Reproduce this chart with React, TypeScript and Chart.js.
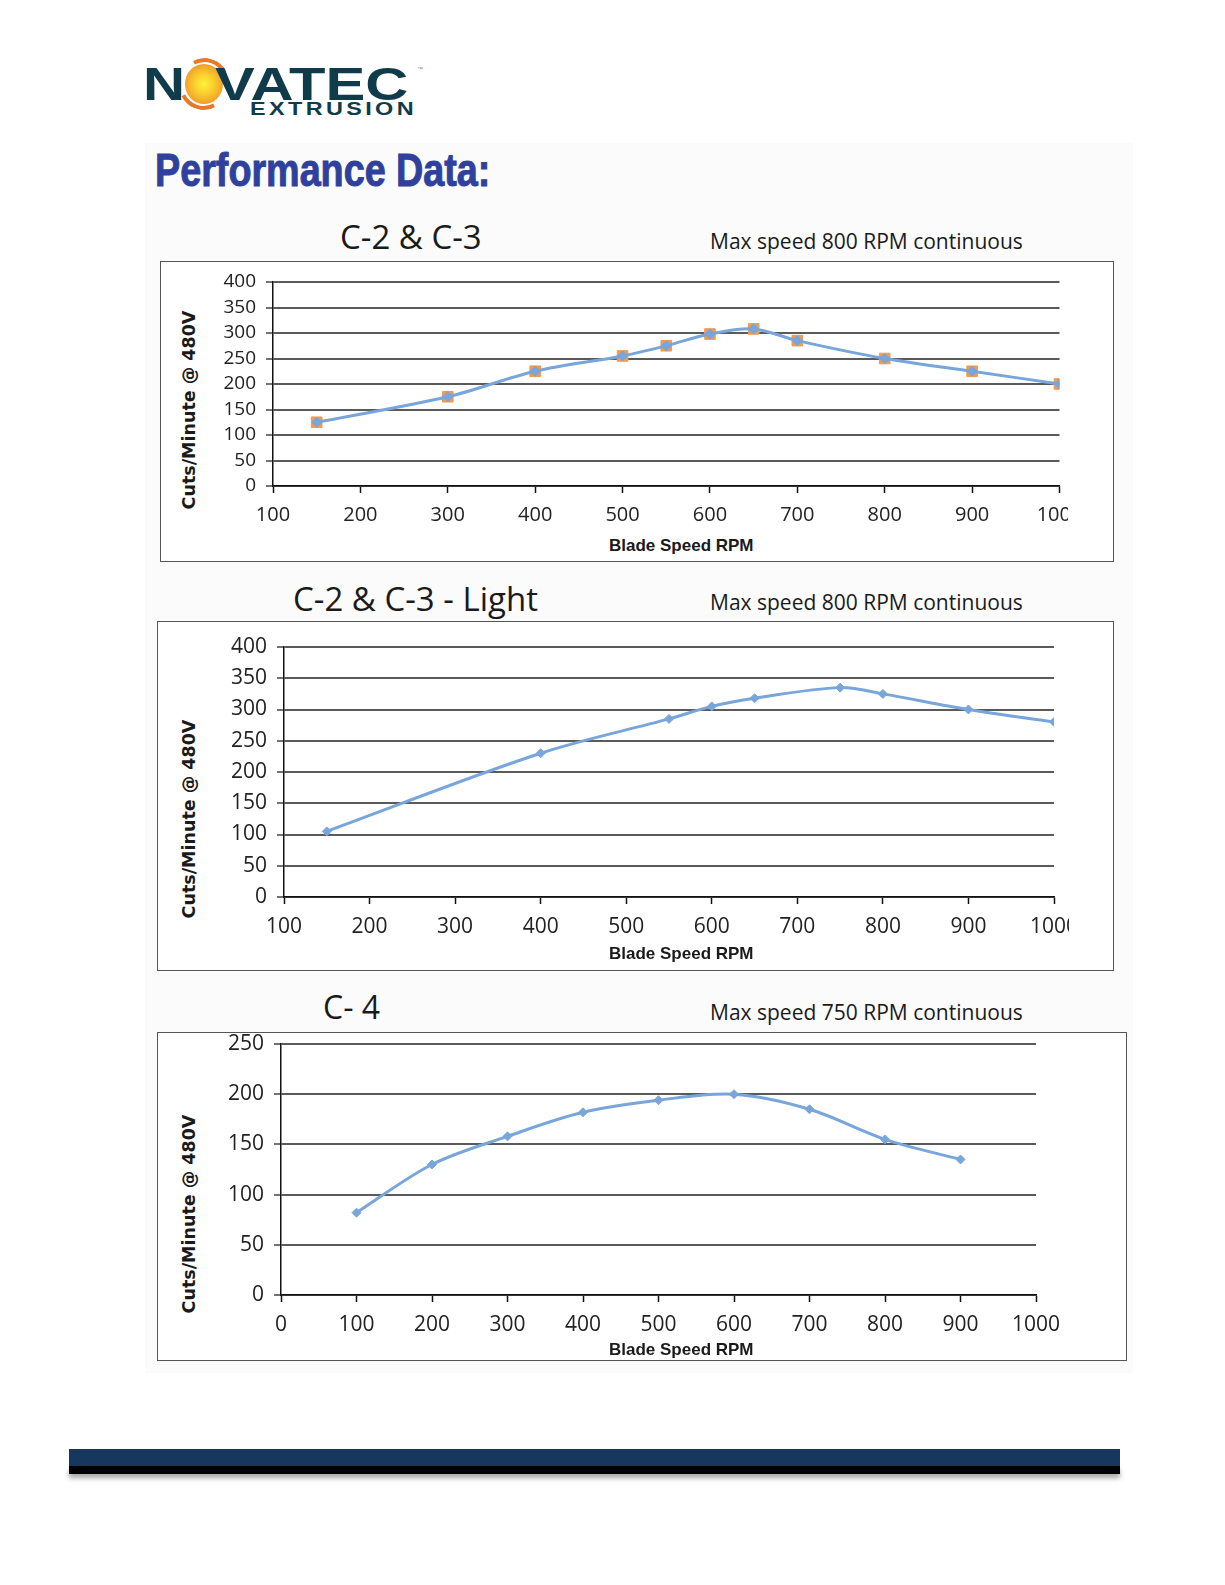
import React, { useEffect, useRef } from "react";
import { Chart, registerables } from "chart.js";

Chart.register(...registerables);

// ---------- data ----------
const c1Rpm = [150, 300, 400, 500, 550, 600, 650, 700, 800, 900, 1000];
const c1Cuts = [125, 175, 225, 255, 275, 298, 308, 285, 250, 225, 200];

const c2Rpm = [150, 400, 550, 600, 650, 750, 800, 900, 1000];
const c2Cuts = [105, 230, 285, 305, 318, 335, 325, 300, 280];

const c3Rpm = [100, 200, 300, 400, 500, 600, 700, 800, 900];
const c3Cuts = [82, 130, 158, 182, 194, 200, 185, 155, 135];

const xTicks12 = [100, 200, 300, 400, 500, 600, 700, 800, 900, 1000];
const xTicks3 = [0, 100, 200, 300, 400, 500, 600, 700, 800, 900, 1000];
const yTicks12 = [0, 50, 100, 150, 200, 250, 300, 350, 400];
const yTicks3 = [0, 50, 100, 150, 200, 250];

const chartTitles = ["C-2 & C-3", "C-2 & C-3 - Light", "C- 4"];
const maxSpeedNotes = [
  "Max speed 800 RPM continuous",
  "Max speed 800 RPM continuous",
  "Max speed 750 RPM continuous",
];
const xAxisTitle = "Blade Speed RPM";
const yAxisTitle = "Cuts/Minute @ 480V";

const BLUE = "#78A5DA";
const ORANGE = "#F19A50";

type ChartProps = {
  left: number;
  top: number;
  width: number;
  height: number;
  yw: number;
  xh: number;
  padTop: number;
  padRight: number;
  xs: number[];
  ys: number[];
  xTicks: number[];
  yTicks: number[];
  xFont: number;
  yFont: number;
  squares?: boolean;
};

function LineChart(p: ChartProps) {
  const ref = useRef<HTMLCanvasElement>(null);
  useEffect(() => {
    if (!ref.current) return;
    const pts = p.xs.map((x, i) => ({ x, y: p.ys[i] }));
    const datasets: any[] = [
      {
        data: pts,
        borderColor: BLUE,
        borderWidth: 3,
        tension: 0.33,
        pointStyle: "rectRot",
        pointRadius: p.squares ? 5 : 4.5,
        pointBackgroundColor: BLUE,
        pointBorderColor: BLUE,
        pointBorderWidth: 1,
        order: 0,
      },
    ];
    if (p.squares) {
      datasets.push({
        data: pts,
        showLine: false,
        pointStyle: "rect",
        pointRadius: 7.5,
        pointBackgroundColor: ORANGE,
        pointBorderColor: ORANGE,
        pointBorderWidth: 1,
        order: 1,
      });
    }
    const tickFont = (size: number) => ({ family: "'Open Sans', sans-serif", size });
    const chart = new Chart(ref.current, {
      type: "line",
      data: { datasets },
      options: {
        responsive: false,
        animation: false,
        devicePixelRatio: 1,
        layout: { padding: { top: p.padTop, right: p.padRight, left: 0, bottom: 0 } },
        plugins: { legend: { display: false }, tooltip: { enabled: false } },
        scales: {
          x: {
            type: "linear",
            min: p.xTicks[0],
            max: p.xTicks[p.xTicks.length - 1],
            afterBuildTicks: (s: any) => {
              s.ticks = p.xTicks.map((v) => ({ value: v }));
            },
            afterFit: (s: any) => {
              s.height = p.xh;
              s.paddingLeft = 0;
              s.paddingRight = 0;
              s.paddingTop = 0;
              s.paddingBottom = 0;
            },
            grid: {
              drawOnChartArea: false,
              drawTicks: true,
              tickLength: 7,
              tickColor: "#111",
              tickWidth: 1.5,
            },
            border: { display: true, color: "#111", width: 1.5 },
            ticks: {
              autoSkip: false,
              maxRotation: 0,
              minRotation: 0,
              padding: 10,
              color: "#222",
              font: tickFont(p.xFont),
              callback: (v: any) => String(v),
            },
          },
          y: {
            type: "linear",
            min: p.yTicks[0],
            max: p.yTicks[p.yTicks.length - 1],
            afterBuildTicks: (s: any) => {
              s.ticks = p.yTicks.map((v) => ({ value: v }));
            },
            afterFit: (s: any) => {
              s.width = p.yw;
              s.paddingLeft = 0;
              s.paddingRight = 0;
              s.paddingTop = 0;
              s.paddingBottom = 0;
            },
            grid: {
              color: "#5a5a5a",
              lineWidth: 2,
              drawTicks: true,
              tickLength: 7,
              tickColor: "#444",
              tickWidth: 1.5,
            },
            border: { display: true, color: "#111", width: 1.5 },
            ticks: {
              autoSkip: false,
              padding: 10,
              color: "#222",
              font: tickFont(p.yFont),
              callback: (v: any) => String(v),
            },
          },
        },
      } as any,
    });
    return () => chart.destroy();
  }, []);
  return (
    <canvas
      ref={ref}
      width={p.width}
      height={p.height}
      style={{ position: "absolute", left: p.left, top: p.top, width: p.width, height: p.height }}
    />
  );
}

function Txt(props: {
  x: number;
  cy: number;
  size: number;
  family?: string;
  weight?: any;
  color?: string;
  style?: React.CSSProperties;
  children: React.ReactNode;
}) {
  return (
    <div
      style={{
        position: "absolute",
        left: props.x,
        top: props.cy - props.size / 2,
        height: props.size,
        lineHeight: props.size + "px",
        fontSize: props.size,
        fontFamily: props.family || "'Open Sans', sans-serif",
        fontWeight: props.weight || 400,
        color: props.color || "#1a1a1a",
        whiteSpace: "nowrap",
        ...props.style,
      }}
    >
      {props.children}
    </div>
  );
}

function YTitle({ cy }: { cy: number }) {
  return (
    <div
      style={{
        position: "absolute",
        left: 189,
        top: cy,
        transform: "translate(-50%, -50%) rotate(-90deg)",
        fontFamily: "'DejaVu Sans', sans-serif",
        fontWeight: 700,
        fontSize: 17.5,
        lineHeight: "20px",
        color: "#1a1a1a",
        whiteSpace: "nowrap",
      }}
    >
      {yAxisTitle}
    </div>
  );
}

function Box(props: { l: number; t: number; r: number; b: number }) {
  return (
    <div
      style={{
        position: "absolute",
        left: props.l,
        top: props.t,
        width: props.r - props.l,
        height: props.b - props.t,
        border: "1px solid #555",
        boxSizing: "border-box",
        background: "#fff",
      }}
    />
  );
}

export default function App() {
  const teal = "#0f3b4a";
  const logoFont = "'Liberation Sans', Arial, sans-serif";
  return (
    <div
      style={{
        position: "absolute",
        left: 0,
        top: 0,
        width: 1225,
        height: 1585,
        background: "#fff",
        overflow: "hidden",
      }}
    >
      {/* faint panel */}
      <div style={{ position: "absolute", left: 145, top: 143, width: 988, height: 1230, background: "#fbfbfb" }} />

      {/* logo */}
      <div
        style={{
          position: "absolute",
          left: 204 - 25,
          top: 84 - 26,
          width: 50,
          height: 52,
          borderRadius: "50%",
          border: "4px solid transparent",
          borderTopColor: "#E8792B",
          borderBottomColor: "#E8792B",
          boxSizing: "border-box",
          transform: "rotate(18deg)",
        }}
      />
      <div
        style={{
          position: "absolute",
          left: 204 - 19,
          top: 84 - 20,
          width: 38,
          height: 40,
          borderRadius: "50%",
          background: "radial-gradient(circle at 50% 50%, #fff23c 0%, #f9cf2e 35%, #f2a12a 70%, #ec8426 100%)",
        }}
      />
      <Txt x={143} cy={83.5} size={47} family={logoFont} weight={700} color={teal}
        style={{ transform: "scaleX(1.24)", transformOrigin: "left center" }}>
        N
      </Txt>
      <Txt x={215} cy={83.5} size={47} family={logoFont} weight={700} color={teal}
        style={{ transform: "scaleX(1.27)", transformOrigin: "left center" }}>
        VATEC
      </Txt>
      <Txt x={417} cy={69} size={6} family={logoFont} color="#888">
        ™
      </Txt>
      <Txt x={250} cy={108.5} size={18} family={logoFont} weight={700} color={teal}
        style={{ transform: "scaleX(1.3)", transformOrigin: "left center", letterSpacing: "2.6px" }}>
        EXTRUSION
      </Txt>

      {/* heading */}
      <Txt x={155} cy={169.5} size={46} family={logoFont} weight={700} color="#2f419c"
        style={{ transform: "scaleX(0.82)", transformOrigin: "left center", WebkitTextStroke: "1px #2f419c" } as any}>
        Performance Data:
      </Txt>

      {/* chart 1 */}
      <Txt x={340} cy={236} size={33}>{chartTitles[0]}</Txt>
      <Txt x={710} cy={241} size={21}>{maxSpeedNotes[0]}</Txt>
      <Box l={160} t={261} r={1114} b={562} />
      <LineChart left={203} top={268} width={865} height={268} yw={70} xh={50} padTop={14} padRight={0}
        xs={c1Rpm} ys={c1Cuts} xTicks={xTicks12} yTicks={yTicks12} xFont={20} yFont={19} squares />
      <YTitle cy={410} />
      <Txt x={609} cy={545} size={17} family={logoFont} weight={700}>{xAxisTitle}</Txt>

      {/* chart 2 */}
      <Txt x={293} cy={598} size={33}>{chartTitles[1]}</Txt>
      <Txt x={710} cy={602} size={21}>{maxSpeedNotes[1]}</Txt>
      <Box l={157} t={621} r={1114} b={971} />
      <LineChart left={214} top={633} width={855} height={314} yw={70} xh={50} padTop={14} padRight={15}
        xs={c2Rpm} ys={c2Cuts} xTicks={xTicks12} yTicks={yTicks12} xFont={21} yFont={21} />
      <YTitle cy={819} />
      <Txt x={609} cy={953} size={17} family={logoFont} weight={700}>{xAxisTitle}</Txt>

      {/* chart 3 */}
      <Txt x={323} cy={1007} size={32}>{chartTitles[2]}</Txt>
      <Txt x={710} cy={1012} size={21}>{maxSpeedNotes[2]}</Txt>
      <Box l={157} t={1032} r={1127} b={1361} />
      <LineChart left={211} top={1030} width={855} height={315} yw={70} xh={50} padTop={14} padRight={30}
        xs={c3Rpm} ys={c3Cuts} xTicks={xTicks3} yTicks={yTicks3} xFont={21} yFont={21} />
      <YTitle cy={1214} />
      <Txt x={609} cy={1349} size={17} family={logoFont} weight={700}>{xAxisTitle}</Txt>

      {/* footer bar */}
      <div
        style={{
          position: "absolute",
          left: 69,
          top: 1449,
          width: 1051,
          height: 17,
          background: "#17375e",
        }}
      />
      <div
        style={{
          position: "absolute",
          left: 69,
          top: 1466,
          width: 1051,
          height: 8,
          background: "#000",
          boxShadow: "0 4px 5px rgba(0,0,0,0.35)",
        }}
      />
    </div>
  );
}
